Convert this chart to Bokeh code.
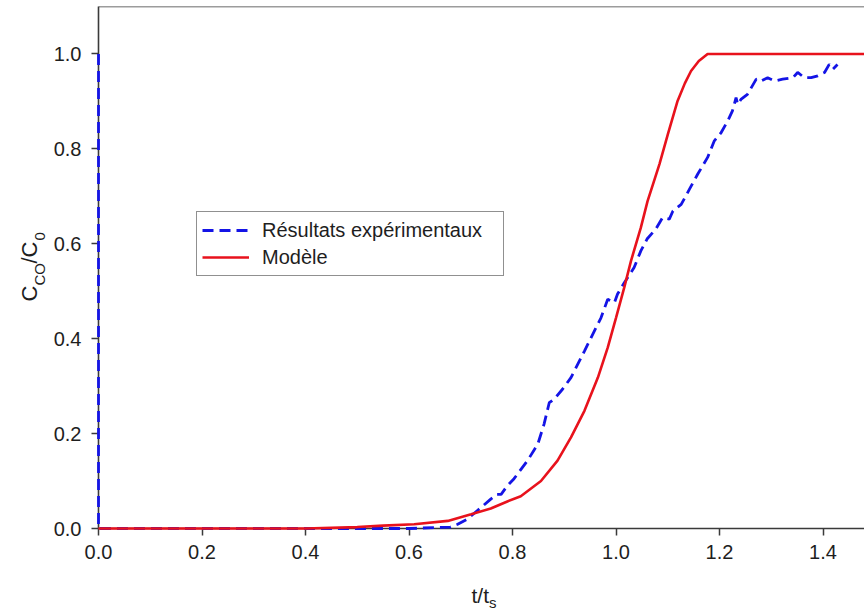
import math
from bokeh.plotting import figure
from bokeh.models import Label, Span, Legend, LegendItem, FixedTicker, Range1d
from bokeh.embed import file_html
from bokeh.resources import INLINE

# ---- data ----
model_x = [0.0, 0.4, 0.5, 0.55, 0.61, 0.675, 0.72, 0.758, 0.79, 0.816, 0.855, 0.887,
           0.913, 0.939, 0.965, 0.984, 1.0, 1.016, 1.029, 1.048, 1.061, 1.084, 1.1,
           1.119, 1.133, 1.145, 1.16, 1.177, 1.5]
model_y = [0.0, 0.0, 0.003, 0.006, 0.009, 0.016, 0.03, 0.042, 0.057, 0.068, 0.10,
           0.143, 0.192, 0.248, 0.318, 0.381, 0.444, 0.508, 0.564, 0.634, 0.69, 0.768,
           0.83, 0.901, 0.938, 0.964, 0.985, 1.0, 1.0]

exp_x = [0.0, 0.0, 0.3, 0.5, 0.6, 0.68, 0.694, 0.713, 0.739, 0.758, 0.77, 0.778,
         0.79, 0.803, 0.829, 0.849, 0.861, 0.871, 0.881, 0.897, 0.913, 0.939, 0.965,
         0.971, 0.984, 0.997, 1.003, 1.016, 1.035, 1.048, 1.06, 1.077, 1.09, 1.103,
         1.11, 1.126, 1.142, 1.158, 1.177, 1.19, 1.203, 1.216, 1.225, 1.232, 1.235,
         1.242, 1.254, 1.271, 1.28, 1.293, 1.306, 1.322, 1.342, 1.351, 1.364, 1.377,
         1.39, 1.403, 1.412, 1.419, 1.428]
exp_y = [1.0, 0.0, 0.0, 0.0, 0.0, 0.003, 0.009, 0.02, 0.044, 0.062, 0.072, 0.072,
         0.09, 0.105, 0.143, 0.178, 0.22, 0.265, 0.273, 0.294, 0.318, 0.374, 0.431,
         0.444, 0.483, 0.476, 0.494, 0.518, 0.55, 0.585, 0.61, 0.631, 0.655, 0.652,
         0.669, 0.683, 0.715, 0.747, 0.782, 0.817, 0.834, 0.859, 0.88, 0.908, 0.894,
         0.905, 0.915, 0.947, 0.943, 0.95, 0.943, 0.947, 0.95, 0.961, 0.95, 0.95,
         0.954, 0.961, 0.978, 0.968, 0.978]

x_ticks = [0.0, 0.2, 0.4, 0.6, 0.8, 1.0, 1.2, 1.4]
y_ticks = [0.0, 0.2, 0.4, 0.6, 0.8, 1.0]
legend_labels = ["Résultats expérimentaux", "Modèle"]

FONT = "Liberation Sans"
AX = "#3a3a3a"
TXT = "#1e1e1e"

W, H = 864, 610
FL, FT, FB = 98, 6, 528          # frame left / top / bottom (px)
PX_X = 517.5                     # px per x unit
X_END = (W - FL) / PX_X
Y_END = 1.1
PX_Y = (FB - FT) / Y_END

p = figure(width=W, height=H, output_backend="svg", toolbar_location=None,
           x_range=Range1d(0, X_END), y_range=Range1d(0, Y_END),
           min_border_left=FL, min_border_right=0, min_border_top=FT,
           min_border_bottom=H - FB)
p.outline_line_color = None
p.grid.visible = False

for ax in (p.xaxis[0], p.yaxis[0]):
    ax.axis_line_color = AX
    ax.axis_line_width = 1.6
    ax.major_tick_line_color = AX
    ax.major_tick_line_width = 1.5
    ax.major_tick_in = 0
    ax.major_tick_out = 7
    ax.minor_tick_line_color = None
    ax.major_label_text_font = FONT
    ax.major_label_text_font_size = "20px"
    ax.major_label_text_color = TXT
p.xaxis.ticker = FixedTicker(ticks=x_ticks)
p.yaxis.ticker = FixedTicker(ticks=y_ticks)
p.xaxis.major_label_standoff = 9
p.yaxis.major_label_standoff = 10
p.xaxis.major_label_overrides = {t: f"{t:.1f}" for t in x_ticks}
p.yaxis.major_label_overrides = {t: f"{t:.1f}" for t in y_ticks}

p.add_layout(Span(location=Y_END, dimension="width", line_color=AX, line_width=1.6))

r_exp = p.line(exp_x, exp_y, line_color="#1414e6", line_width=2.8, line_dash="11 6")
r_mod = p.line(model_x, model_y, line_color="#e8121c", line_width=2.6)
# draw the curves above the axis lines (as in the reference)
r_exp.level = "overlay"
r_mod.level = "overlay"

legend = Legend(items=[LegendItem(label=legend_labels[0], renderers=[r_exp]),
                       LegendItem(label=legend_labels[1], renderers=[r_mod])],
                location=(196 - FL, FB - 276))
legend.label_text_font = FONT
legend.label_text_font_size = "20px"
legend.label_text_color = TXT
legend.glyph_width = 47
legend.glyph_height = 26
legend.label_height = 26
legend.label_width = 236
legend.label_standoff = 13
legend.spacing = 1
legend.padding = 5
legend.margin = 0
legend.border_line_color = "#222222"
legend.border_line_width = 1.3
legend.background_fill_alpha = 1.0
p.add_layout(legend, "center")


def dx(px):
    return (px - FL) / PX_X


def dy(py):
    return (FB - py) / PX_Y


def side_label(txt, px, py, fs, angle=0.0):
    return Label(x=dx(px), y=dy(py), text=txt, angle=angle, text_font=FONT,
                 text_font_size=f"{fs}px", text_color=TXT,
                 text_align="left", text_baseline="alphabetic")


# y axis label C_CO / C_0 : main letters and subscripts as two rotated labels,
# the gaps are filled with em / en spaces
p.add_layout(side_label("C\u2003/C", 28.5, 301, 22, math.pi / 2), "left")
p.add_layout(side_label("CO\u2003\u20020", 39.0, 285.1, 15, math.pi / 2), "left")

# x axis label t/t_s
p.add_layout(side_label("t/t", 471, 595, 21), "below")
p.add_layout(side_label("s", 488.5, 602, 15), "below")

open("out.html", "w").write(file_html(p, INLINE))
